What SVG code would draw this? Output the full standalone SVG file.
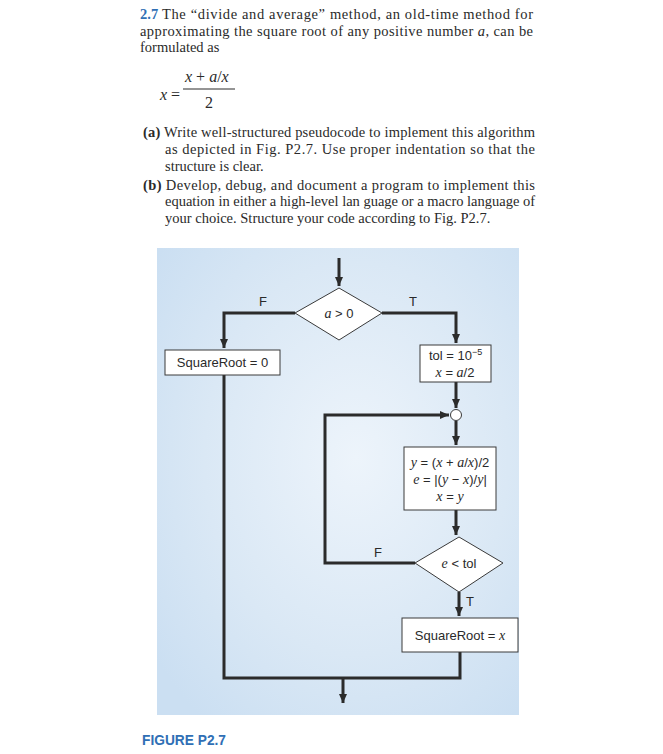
<svg xmlns="http://www.w3.org/2000/svg" width="663" height="754" viewBox="0 0 663 754">
<defs>
<radialGradient id="bg" cx="0.55" cy="0.45" r="0.7">
<stop offset="0" stop-color="#edf4fb"/>
<stop offset="0.6" stop-color="#dae8f5"/>
<stop offset="1" stop-color="#cbdff2"/>
</radialGradient>
<marker id="arr" markerWidth="10" markerHeight="10" refX="9" refY="5" orient="auto" markerUnits="userSpaceOnUse">
<path d="M0,1 L9,5 L0,9 Z" fill="#2b2b2b"/>
</marker>
</defs>
<style>
.t{font-family:"Liberation Serif","Times New Roman",serif;font-size:14.5px;fill:#2a2a2a}
.f{font-family:"Liberation Serif","Times New Roman",serif;font-size:16px;fill:#2a2a2a}
.s{font-family:"Liberation Sans",Arial,sans-serif;font-size:13px;fill:#2a2a2a}
.m{font-family:"Liberation Serif","Times New Roman",serif;font-style:italic}
.box{fill:#ffffff;stroke:#3a3a3a;stroke-width:1}
.ln{fill:none;stroke:#2b2b2b;stroke-width:3}
</style>
<rect width="663" height="754" fill="#ffffff"/>
<g id="problem-text">
<text class="t" x="140" y="19" font-weight="bold" style="fill:#2f6fb5">2.7</text>
<text class="t" x="162" y="19" textLength="371" lengthAdjust="spacing">The “divide and average” method, an old-time method for</text>
<text class="t" x="140" y="36" textLength="393" lengthAdjust="spacing">approximating the square root of any positive number <tspan class="m">a</tspan>, can be</text>
<text class="t" x="140" y="52">formulated as</text>
<text class="f" x="160" y="100"><tspan class="m">x</tspan> =</text>
<text class="f" x="185" y="82"><tspan class="m">x</tspan> + <tspan class="m">a</tspan>/<tspan class="m">x</tspan></text>
<line x1="183" y1="89" x2="235" y2="89" stroke="#2a2a2a" stroke-width="1"/>
<text class="f" x="205" y="108">2</text>
<text class="t" x="143" y="137" textLength="392" lengthAdjust="spacing"><tspan font-weight="bold">(a)</tspan> Write well-structured pseudocode to implement this algorithm</text>
<text class="t" x="165" y="154" textLength="370" lengthAdjust="spacing">as depicted in Fig. P2.7. Use proper indentation so that the</text>
<text class="t" x="165" y="171">structure is clear.</text>
<text class="t" x="143" y="190" textLength="392" lengthAdjust="spacing"><tspan font-weight="bold">(b)</tspan> Develop, debug, and document a program to implement this</text>
<text class="t" x="165" y="206" textLength="370" lengthAdjust="spacing">equation in either a high-level lan guage or a macro language of</text>
<text class="t" x="165" y="223">your choice. Structure your code according to Fig. P2.7.</text>
</g>
<rect id="panel" x="157" y="248" width="362" height="467" fill="url(#bg)"/>
<g id="connectors">
<line class="ln" x1="339" y1="258" x2="339" y2="286" marker-end="url(#arr)"/>
<polyline class="ln" points="295,313 224,313 224,348" marker-end="url(#arr)"/>
<polyline class="ln" points="382,313 456,313 456,343" marker-end="url(#arr)"/>
<line class="ln" x1="456" y1="382" x2="456" y2="408" marker-end="url(#arr)"/>
<line class="ln" x1="456" y1="421" x2="456" y2="445" marker-end="url(#arr)"/>
<line class="ln" x1="456" y1="510" x2="456" y2="535" marker-end="url(#arr)"/>
<polyline class="ln" points="415,563 325,563 325,415 449,415" marker-end="url(#arr)"/>
<line class="ln" x1="459" y1="592" x2="459" y2="616" marker-end="url(#arr)"/>
<polyline class="ln" points="224,375 224,678 460,678 460,652"/>
<line class="ln" x1="343" y1="678" x2="343" y2="703" marker-end="url(#arr)"/>
<text class="s" x="259" y="306">F</text>
<text class="s" x="409" y="306">T</text>
<text class="s" x="374" y="557">F</text>
<text class="s" x="466" y="606">T</text>
</g>
<g id="dec-a">
<polygon class="box" points="339,288 382,313 339,340 295,313"/>
<text class="s" x="339" y="318" text-anchor="middle"><tspan class="m" font-size="14">a</tspan> &gt; 0</text>
</g>
<g id="sqrt-zero">
<rect class="box" x="165" y="350" width="115" height="25"/>
<text class="s" x="222.5" y="367" text-anchor="middle">SquareRoot = 0</text>
</g>
<g id="init">
<rect class="box" x="420" y="345" width="71" height="37"/>
<text class="s" x="429" y="360">tol = 10<tspan font-size="9" dy="-5">−5</tspan></text>
<text class="s" x="455" y="377" text-anchor="middle"><tspan class="m" font-size="14">x</tspan> = <tspan class="m" font-size="14">a</tspan>/2</text>
</g>
<g id="junction">
<circle cx="456" cy="415" r="5.5" fill="#ffffff" stroke="#3a3a3a" stroke-width="1"/>
</g>
<g id="compute">
<rect class="box" x="404" y="447" width="92" height="63"/>
<text class="s" x="450" y="467" text-anchor="middle"><tspan class="m" font-size="14">y</tspan> = (<tspan class="m" font-size="14">x</tspan> + <tspan class="m" font-size="14">a</tspan>/<tspan class="m" font-size="14">x</tspan>)/2</text>
<text class="s" x="450" y="484" text-anchor="middle"><tspan class="m" font-size="14">e</tspan> = |(<tspan class="m" font-size="14">y</tspan> − <tspan class="m" font-size="14">x</tspan>)/<tspan class="m" font-size="14">y</tspan>|</text>
<text class="s" x="450" y="501" text-anchor="middle"><tspan class="m" font-size="14">x</tspan> = <tspan class="m" font-size="14">y</tspan></text>
</g>
<g id="dec-e">
<polygon class="box" points="459,537 503,563 459,592 415,563"/>
<text class="s" x="459" y="568" text-anchor="middle"><tspan class="m" font-size="14">e</tspan> &lt; tol</text>
</g>
<g id="sqrt-x">
<rect class="box" x="402" y="618" width="116" height="34"/>
<text class="s" x="460" y="640" text-anchor="middle">SquareRoot = <tspan class="m" font-size="14">x</tspan></text>
</g>
<text x="142" y="745" font-family="'Liberation Sans',Arial,sans-serif" font-size="15" font-weight="bold" fill="#2f6fb5" textLength="84" lengthAdjust="spacingAndGlyphs">FIGURE P2.7</text>
</svg>
